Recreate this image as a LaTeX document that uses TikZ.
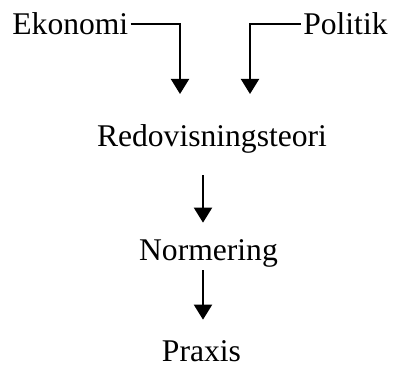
\documentclass[tikz,border=0pt]{standalone}
\usepackage{fontspec}
\setmainfont{Liberation Serif}
\usetikzlibrary{arrows.meta, positioning}
\tikzset{
  flow/.style  = {-{Triangle[width=9pt, length=7.5pt]}, line width=1pt, black},
  term/.style  = {inner sep=0pt, font=\fontsize{15.8}{19}\selectfont},
}

\begin{document}
\begin{tikzpicture}[x=0.5pt, y=-0.5pt]
  \useasboundingbox (0,0) rectangle (393,369);
  % sources
  \node[term, anchor=base west] (eko) at (12,35) {Ekonomi};
  \node[term, anchor=base east] (pol) at (388,35) {Politik};
  % chain
  \node[term, anchor=base] (teori) at (212,147) {Redovisningsteori};
  \node[term, anchor=base] (norm) at (208.5,261) {Normering};
  \node[term, anchor=base] (praxis) at (201.5,362) {Praxis};
  % arrow ends
  \coordinate (ekoin) at (180,94);
  \coordinate (polin) at (250,94);
  \coordinate (spine) at (203,0);
  \draw[flow, shorten <=1pt] (eko.east) -| (ekoin);
  \draw[flow, shorten <=1pt] (pol.west) -| (polin);
  \draw[flow, shorten <=10.5pt, shorten >=8.5pt] (teori.south -| spine) -- (norm.north -| spine);
  \draw[flow, shorten <=1pt, shorten >=10.5pt] (norm.south -| spine) -- (praxis.north -| spine);
\end{tikzpicture}
\end{document}
